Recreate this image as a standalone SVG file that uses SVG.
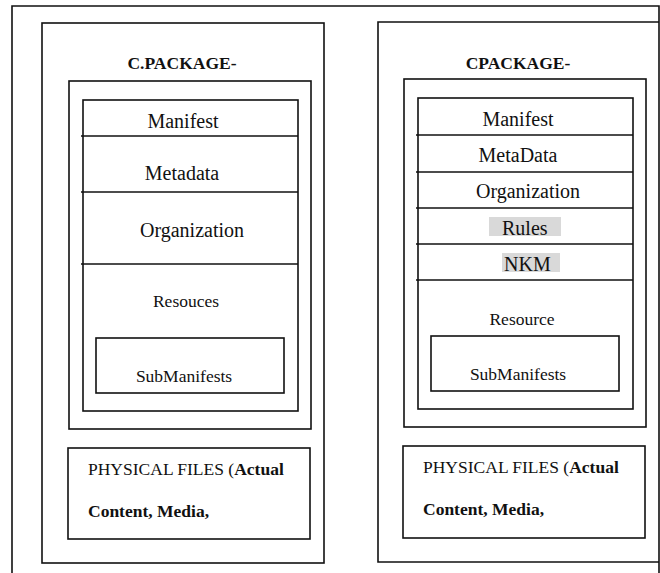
<svg xmlns="http://www.w3.org/2000/svg" width="660" height="573" viewBox="0 0 660 573">
<style>
.b{fill:none;stroke:#111;stroke-width:1.6}
.t{fill:#111}
.r{font-size:20px}
.s{font-size:17.5px}
.bd{font-weight:bold}
.hl{fill:#d9d9d9}
</style>
<rect x="0" y="0" width="660" height="573" fill="#fff"/>
<path class="b" d="M12,580 V6 H659 V580"/>
<g font-family="Liberation Serif, Times New Roman, DejaVu Serif, serif">
<g id="left-package">
<rect class="b" x="42" y="23" width="282" height="540"/>
<text class="t s bd" x="182" y="69" text-anchor="middle">C.PACKAGE-</text>
<rect class="b" x="69" y="81" width="242" height="348"/>
<g id="left-manifest">
<rect class="b" x="83" y="100" width="215" height="311"/>
<line class="b" x1="81" y1="136" x2="298" y2="136"/>
<line class="b" x1="81" y1="192" x2="298" y2="192"/>
<line class="b" x1="81" y1="264" x2="298" y2="264"/>
<text class="t r" x="183" y="128" text-anchor="middle">Manifest</text>
<text class="t r" x="182" y="180" text-anchor="middle">Metadata</text>
<text class="t r" x="192" y="237" text-anchor="middle">Organization</text>
<text class="t s" x="186" y="307" text-anchor="middle">Resouces</text>
</g>
<g id="left-submanifests">
<rect class="b" x="96" y="338" width="188" height="55"/>
<text class="t s" x="184" y="382" text-anchor="middle">SubManifests</text>
</g>
<g id="left-physical">
<rect class="b" x="68" y="448" width="242" height="91"/>
<text class="t s" x="88" y="475">PHYSICAL FILES (<tspan class="bd">Actual</tspan></text>
<text class="t s bd" x="88" y="517">Content, Media,</text>
</g>
</g>
<g id="right-package">
<path class="b" d="M659,22 H378 V562 H659"/>
<text class="t s bd" x="518" y="69" text-anchor="middle">CPACKAGE-</text>
<rect class="b" x="404" y="79" width="242" height="348"/>
<g id="right-manifest">
<rect class="b" x="418" y="98" width="215" height="311"/>
<line class="b" x1="416" y1="135" x2="633" y2="135"/>
<line class="b" x1="416" y1="172" x2="633" y2="172"/>
<line class="b" x1="416" y1="208" x2="633" y2="208"/>
<line class="b" x1="416" y1="244" x2="633" y2="244"/>
<line class="b" x1="416" y1="280" x2="633" y2="280"/>
<text class="t r" x="518" y="126" text-anchor="middle">Manifest</text>
<text class="t r" x="518" y="162" text-anchor="middle">MetaData</text>
<text class="t r" x="528" y="198" text-anchor="middle">Organization</text>
<rect class="hl" x="489" y="217" width="72" height="19"/>
<text class="t r" x="502" y="235">Rules</text>
<rect class="hl" x="502" y="253" width="58" height="19"/>
<text class="t r" x="504" y="271">NKM</text>
<text class="t s" x="522" y="325" text-anchor="middle">Resource</text>
</g>
<g id="right-submanifests">
<rect class="b" x="431" y="336" width="188" height="55"/>
<text class="t s" x="518" y="380" text-anchor="middle">SubManifests</text>
</g>
<g id="right-physical">
<rect class="b" x="403" y="446" width="242" height="92"/>
<text class="t s" x="423" y="473">PHYSICAL FILES (<tspan class="bd">Actual</tspan></text>
<text class="t s bd" x="423" y="515">Content, Media,</text>
</g>
</g>
</g>
<g id="connectors"/>
</svg>
